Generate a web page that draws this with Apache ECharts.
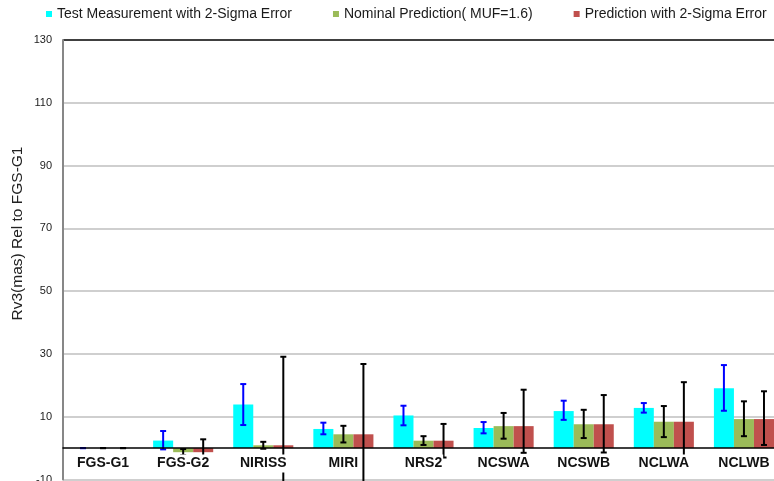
<!DOCTYPE html>
<html><head><meta charset="utf-8">
<script src="https://cdn.jsdelivr.net/npm/echarts@6/dist/echarts.min.js"></script>
<style>html,body{margin:0;padding:0;background:#fff}#c{width:774px;height:481px}</style>
</head><body><div id="c"></div>
<script>
// ---- data ----
const categories = ['FGS-G1','FGS-G2','NIRISS','MIRI','NRS2','NCSWA','NCSWB','NCLWA','NCLWB'];
const seriesNames = ['Test Measurement with 2-Sigma Error','Nominal Prediction( MUF=1.6)','Prediction with 2-Sigma Error'];

const testValues   = [0, 2.4, 13.9, 6.1, 10.4, 6.4, 11.8, 12.8, 19.1];
const testErrLow   = [0, -0.4, 7.35, 4.4, 7.26, 4.7, 9.0, 11.3, 11.9];
const testErrHigh  = [0, 5.44, 20.4, 8.1, 13.5, 8.3, 15.1, 14.35, 26.45];

const nominalValues  = [0, -1.3, 0.9, 4.4, 2.36, 7.0, 7.6, 8.4, 9.25];
const nominalErrLow  = [0, -2.3, -0.2, 1.8, 1.0, 3.0, 3.2, 3.5, 3.8];
const nominalErrHigh = [0, -0.3, 2.0, 7.1, 3.8, 11.2, 12.2, 13.4, 14.9];

const predValues   = [0, -1.3, 0.9, 4.4, 2.36, 7.0, 7.6, 8.4, 9.25];
const predErrLow   = [0, -5.4, -27.3, -18.0, -3.0, -1.5, -1.4, -4.2, 1.0];
const predErrHigh  = [0, 2.8, 29.1, 26.8, 7.7, 18.6, 16.9, 21.0, 18.1];

const yMin = -10, yMax = 130, yStep = 20;

// ---- styles ----
const colors = ['#00FFFF', '#9BBB59', '#C0504D'];
const errColors = ['#0000FF', '#000000', '#000000'];
const font = "'Liberation Sans',Arial,sans-serif";

function barSeries(k, values) {
  return {
    type: 'bar', name: seriesNames[k], data: values,
    barWidth: '25%', barGap: '0%', z: 2,
    itemStyle: { color: colors[k] },
    emphasis: { disabled: true }
  };
}
function errorSeries(k, lows, highs) {
  return {
    type: 'custom', name: 'err' + k, z: 4, silent: true,
    data: categories.map((c, i) => [i, lows[i], highs[i]]),
    encode: { x: 0, y: [1, 2] },
    renderItem(params, api) {
      const i = api.value(0);
      const hi = api.coord([i, api.value(2)]);
      const lo = api.coord([i, api.value(1)]);
      const band = api.size([1, 0])[0];
      const x = hi[0] + (k - 1) * band * 0.25;
      const cap = 3;
      const st = { stroke: errColors[k], lineWidth: 2 };
      return { type: 'group', children: [
        { type: 'line', shape: { x1: x, y1: hi[1], x2: x, y2: lo[1] }, style: st },
        { type: 'line', shape: { x1: x - cap, y1: hi[1], x2: x + cap, y2: hi[1] }, style: st },
        { type: 'line', shape: { x1: x - cap, y1: lo[1], x2: x + cap, y2: lo[1] }, style: st }
      ]};
    }
  };
}

const nTicks = Math.round((yMax - yMin) / yStep) + 1;
const splitColors = Array.from({ length: nTicks }, (_, i) => i === nTicks - 1 ? '#000000' : '#BFBFBF');

const chart = echarts.init(document.getElementById('c'), null, { renderer: 'canvas' });
chart.setOption({
  animation: false,
  backgroundColor: '#ffffff',
  grid: { left: 63, top: 40, width: 721, height: 439.5, containLabel: false, outerBoundsMode: 'none' },
  legend: {
    data: seriesNames, left: 46, top: 7, width: 740, padding: 0,
    icon: 'rect', itemWidth: 6, itemHeight: 6, itemGap: 41,
    textStyle: { fontFamily: font, fontSize: 14, color: '#1a1a1a' },
    selectedMode: false
  },
  xAxis: {
    type: 'category', data: categories, zlevel: 1, z: 10,
    axisLine: { onZero: true, lineStyle: { color: '#000', width: 1.5 } },
    axisTick: { show: false },
    axisLabel: {
      interval: 0, margin: -25,
      formatter: v => '{a|' + v + '}',
      rich: { a: { fontFamily: font, fontWeight: 'bold', fontSize: 14, color: '#111', backgroundColor: '#ffffff', padding: [2, 1, 2, 1] } }
    },
    splitLine: { show: false }
  },
  yAxis: {
    type: 'value', min: yMin, max: yMax, interval: yStep,
    axisLine: { show: true, lineStyle: { color: '#878787', width: 2 } },
    axisTick: { show: false },
    axisLabel: { margin: 11, fontFamily: font, fontSize: 11, color: '#222' },
    splitLine: { show: true, lineStyle: { color: splitColors, width: 1.5 } }
  },
  graphic: [{
    type: 'text', x: 18, y: 233.5, rotation: Math.PI / 2,
    style: { text: 'Rv3(mas) Rel to FGS-G1', fontFamily: font, fontSize: 15.5, fill: '#222', align: 'center', verticalAlign: 'middle' }
  }],
  series: [
    barSeries(0, testValues), barSeries(1, nominalValues), barSeries(2, predValues),
    errorSeries(0, testErrLow, testErrHigh), errorSeries(1, nominalErrLow, nominalErrHigh), errorSeries(2, predErrLow, predErrHigh)
  ]
});
</script></body></html>
